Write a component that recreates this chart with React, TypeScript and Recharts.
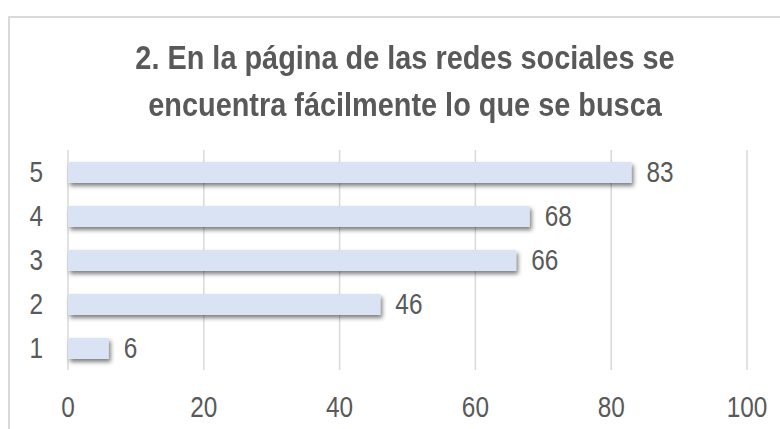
import { Bar, BarChart, CartesianGrid, LabelList, Rectangle, XAxis, YAxis } from "recharts";

const categories = ["5", "4", "3", "2", "1"];
const values = [83, 68, 66, 46, 6];
const xTicks = [0, 20, 40, 60, 80, 100];
const titleLines = [
  "2. En la página de las redes sociales se",
  "encuentra fácilmente lo que se busca",
];

const data = categories.map((cat, i) => ({ cat, value: values[i] }));

const FONT = '"Liberation Sans", Arial, sans-serif';
const TEXT = "#595959";
const NARROW = 0.84;
const FS = 29;

const ShadowBar = (props: any) => <Rectangle {...props} filter="url(#barShadow)" />;

// narrow text, like the condensed face in the original
const NarrowText = ({ x, y, anchor, value }: { x: number; y: number; anchor: string; value: any }) => (
  <text
    transform={`translate(${x},${y}) scale(${NARROW},1)`}
    textAnchor={anchor}
    dominantBaseline="central"
    fill={TEXT}
    fontSize={FS}
    fontFamily={FONT}
  >
    {value}
  </text>
);

const XTick = (p: any) => <NarrowText x={p.x} y={p.y + 11} anchor="middle" value={p.payload.value} />;
const YTick = (p: any) => <NarrowText x={p.x} y={p.y} anchor="end" value={p.payload.value} />;
const ValueLabel = (p: any) => (
  <NarrowText x={p.x + p.width + 15} y={p.y + p.height / 2} anchor="start" value={p.value} />
);

export default function App() {
  return (
    <div style={{ position: "absolute", left: 0, top: 0, width: 780, height: 429, overflow: "hidden", background: "#fff" }}>
      <div
        style={{
          position: "absolute",
          left: 8,
          top: 16,
          width: 800,
          height: 460,
          border: "2px solid #D9D9D9",
          boxSizing: "border-box",
        }}
      />
      {titleLines.map((t, i) => (
        <div
          key={i}
          style={{
            position: "absolute",
            left: 0,
            width: 810,
            top: 37 + i * 47,
            textAlign: "center",
            fontFamily: FONT,
            fontWeight: "bold",
            fontSize: 33,
            lineHeight: "42px",
            color: TEXT,
            transform: "scaleX(0.875)",
            transformOrigin: "405px 0",
          }}
        >
          {t}
        </div>
      ))}
      <div style={{ position: "absolute", left: 0, top: 0 }}>
        <BarChart
          width={780}
          height={429}
          data={data}
          layout="vertical"
          margin={{ top: 150, right: 33, bottom: 29, left: 0 }}
        >
          <defs>
            <filter id="barShadow" x="-10%" y="-30%" width="130%" height="200%">
              <feDropShadow dx={2} dy={3} stdDeviation={2} floodColor="#000" floodOpacity={0.5} />
            </filter>
          </defs>
          <CartesianGrid horizontal={false} stroke="#D9D9D9" strokeWidth={1.5} />
          <XAxis
            type="number"
            domain={[0, 100]}
            ticks={xTicks}
            axisLine={false}
            tickLine={false}
            tickSize={0}
            tickMargin={26}
            tick={XTick}
          />
          <YAxis
            type="category"
            dataKey="cat"
            width={68}
            axisLine={false}
            tickLine={false}
            tickSize={0}
            tickMargin={25}
            tick={YTick}
          />
          <Bar dataKey="value" fill="#DAE3F3" barSize={21} shape={ShadowBar} isAnimationActive={false}>
            <LabelList dataKey="value" content={ValueLabel} />
          </Bar>
        </BarChart>
      </div>
    </div>
  );
}
